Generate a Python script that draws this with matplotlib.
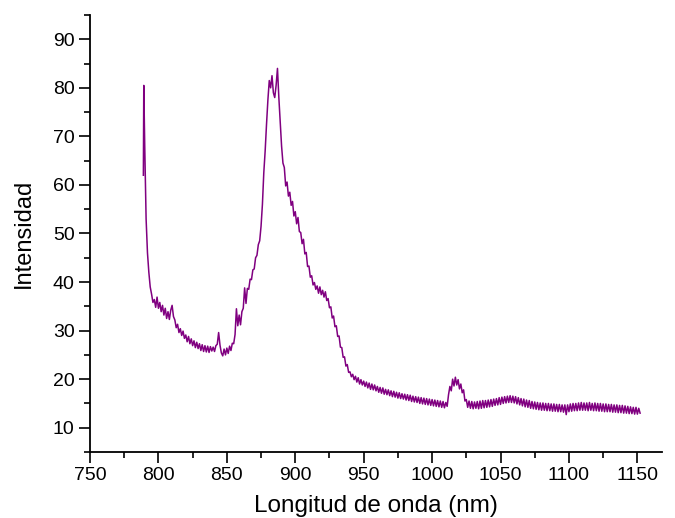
import matplotlib
matplotlib.use("Agg")
import matplotlib.pyplot as plt
from matplotlib.ticker import MultipleLocator

# ---- data ----
wavelength = [789.0, 789.3] + list(range(790, 1153))

intensity = [
    62.0, 80.5,
    # 790-799
    68.0, 53.0, 46.0, 42.0, 39.0, 37.5, 35.8, 36.4, 34.8, 36.9,
    # 800-809
    34.6, 35.8, 33.9, 35.2, 33.2, 34.6, 32.5, 33.9, 32.3, 34.2,
    # 810-819
    35.2, 32.9, 32.2, 30.6, 31.3, 29.6, 30.4, 29.0, 29.9, 28.4,
    # 820-829
    29.1, 27.7, 28.8, 27.3, 28.3, 26.9, 27.9, 26.5, 27.6, 26.3,
    # 830-839
    27.3, 25.9, 27.1, 25.7, 26.9, 25.6, 26.8, 25.5, 26.7, 25.8,
    # 840-849
    26.6, 25.7, 26.9, 27.2, 29.6, 27.0, 25.4, 24.8, 26.2, 25.0,
    # 850-859
    26.4, 25.3, 26.8, 25.9, 27.4, 27.3, 29.2, 34.5, 31.0, 33.2,
    # 860-869
    31.2, 33.9, 34.6, 38.8, 35.6, 38.7, 38.5, 40.6, 40.5, 42.5,
    # 870-879
    42.7, 45.0, 45.5, 47.7, 48.5, 51.5, 56.0, 62.5, 67.0, 72.5,
    # 880-889
    77.5, 81.5, 80.0, 82.5, 79.0, 78.0, 80.5, 84.0, 78.0, 73.0,
    # 890-899
    68.0, 64.5, 63.6, 59.8, 60.6, 57.7, 58.5, 55.8, 56.6, 53.6,
    # 900-909
    54.5, 52.0, 53.3, 50.4, 50.2, 47.9, 48.8, 45.8, 46.1, 43.2,
    # 910-919
    43.3, 41.0, 41.3, 39.4, 39.9, 38.5, 39.2, 37.7, 39.0, 37.4,
    # 920-929
    38.3, 36.9, 38.0, 36.2, 36.6, 34.7, 34.9, 32.6, 33.0, 30.8,
    # 930-939
    31.0, 28.8, 28.9, 26.6, 26.5, 24.5, 24.6, 22.7, 23.0, 21.4,
    # 940-949
    21.5, 20.5, 21.0, 19.9, 20.6, 19.4, 20.3, 19.0, 19.9, 18.8,
    # 950-959
    19.6, 18.5, 19.4, 18.2, 19.2, 17.9, 19.0, 17.8, 18.8, 17.6,
    # 960-969
    18.5, 17.3, 18.3, 17.1, 18.2, 16.9, 17.9, 16.8, 17.8, 16.6,
    # 970-979
    17.6, 16.4, 17.5, 16.3, 17.3, 16.1, 17.2, 16.0, 17.0, 15.9,
    # 980-989
    16.9, 15.7, 16.8, 15.6, 16.7, 15.4, 16.5, 15.3, 16.4, 15.2,
    # 990-999
    16.3, 15.0, 16.2, 14.9, 16.1, 14.8, 16.0, 14.7, 15.9, 14.6,
    # 1000-1009
    15.8, 14.5, 15.7, 14.4, 15.6, 14.3, 15.5, 14.2, 15.4, 14.1,
    # 1010-1019
    15.2, 14.4, 16.8, 18.5, 17.6, 20.0, 18.6, 20.4, 18.8, 19.9,
    # 1020-1029
    18.0, 19.0, 17.2, 17.8, 15.5, 15.8, 14.2, 15.5, 14.0, 15.4,
    # 1030-1039
    13.9, 15.3, 14.0, 15.4, 13.9, 15.5, 14.0, 15.6, 14.1, 15.6,
    # 1040-1049
    14.2, 15.7, 14.3, 15.8, 14.4, 15.9, 14.6, 16.0, 14.7, 16.2,
    # 1050-1059
    14.8, 16.3, 15.0, 16.4, 15.1, 16.5, 15.2, 16.6, 15.2, 16.5,
    # 1060-1069
    15.1, 16.4, 14.9, 16.2, 14.7, 16.0, 14.5, 15.9, 14.3, 15.7,
    # 1070-1079
    14.2, 15.6, 14.0, 15.4, 13.9, 15.3, 13.8, 15.2, 13.7, 15.1,
    # 1080-1089
    13.6, 15.1, 13.6, 15.0, 13.5, 15.0, 13.5, 14.9, 13.4, 14.9,
    # 1090-1099
    13.4, 14.8, 13.3, 14.8, 13.3, 14.7, 13.2, 14.7, 12.7, 14.7,
    # 1100-1109
    13.3, 14.9, 13.4, 15.0, 13.5, 15.0, 13.5, 15.1, 13.6, 15.2,
    # 1110-1119
    13.6, 15.1, 13.6, 15.1, 13.5, 15.2, 13.6, 15.0, 13.5, 15.1,
    # 1120-1129
    13.5, 15.0, 13.4, 15.0, 13.4, 14.9, 13.3, 14.9, 13.3, 14.8,
    # 1130-1139
    13.3, 14.8, 13.2, 14.7, 13.2, 14.7, 13.1, 14.6, 13.1, 14.6,
    # 1140-1149
    13.0, 14.5, 13.0, 14.4, 12.9, 14.3, 12.9, 14.2, 12.8, 14.2,
    # 1150-1152
    12.8, 14.0, 13.0,
]

x_label = "Longitud de onda (nm)"
y_label = "Intensidad"
x_ticks = [750, 800, 850, 900, 950, 1000, 1050, 1100, 1150]
y_ticks = [10, 20, 30, 40, 50, 60, 70, 80, 90]

# ---- figure ----
plt.rcParams["font.family"] = ["Liberation Sans", "DejaVu Sans"]

fig = plt.figure(figsize=(6.75, 5.18), dpi=100)
ax = fig.add_axes([90 / 675, 1 - 452 / 518, (662 - 90) / 675, (452 - 15) / 518])

ax.plot(wavelength, intensity, color="#800080", linewidth=1.1)

ax.set_xlim(750, 1168)
ax.set_ylim(5, 95)
ax.set_xticks(x_ticks)
ax.set_yticks(y_ticks)
ax.xaxis.set_minor_locator(MultipleLocator(25))
ax.yaxis.set_minor_locator(MultipleLocator(5))

for side in ("top", "right"):
    ax.spines[side].set_visible(False)
for side in ("left", "bottom"):
    ax.spines[side].set_linewidth(1.3)

ax.tick_params(which="major", direction="out", length=8, width=1.2,
               labelsize=14, pad=3)
ax.tick_params(which="minor", direction="out", length=4.5, width=1.2)

ax.set_xlabel(x_label, fontsize=17.5, labelpad=8)
ax.set_ylabel(y_label, fontsize=17, labelpad=13)

fig.savefig("out.png", dpi=100)
